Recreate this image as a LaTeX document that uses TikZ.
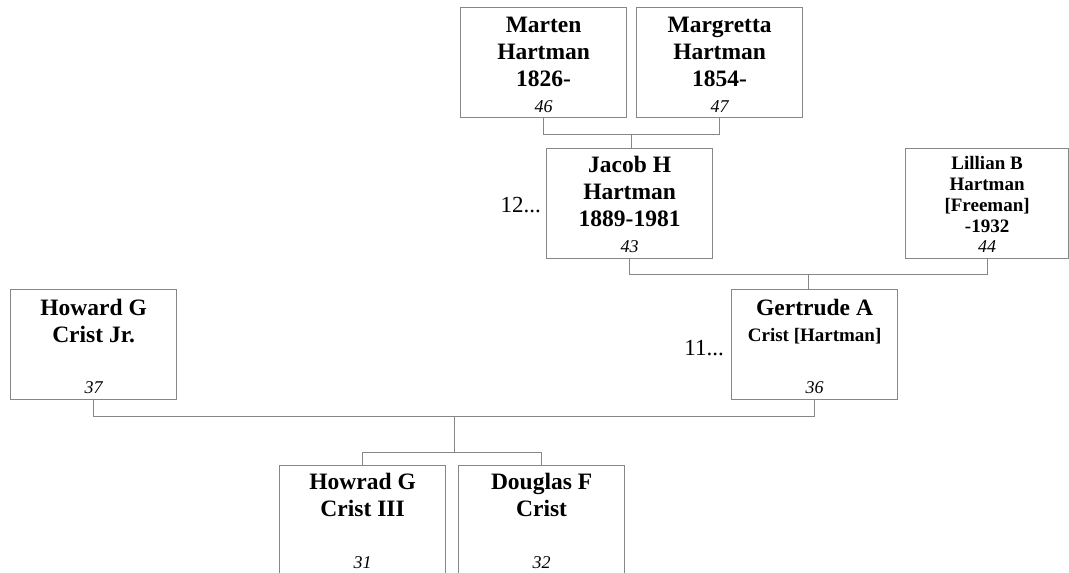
\documentclass[tikz,border=0pt]{standalone}
\usepackage{fontspec}
\setmainfont{Liberation Serif}
\usetikzlibrary{calc}
\definecolor{linegray}{RGB}{135,135,135}

\begin{document}
\begin{tikzpicture}[x=1pt, y=-1pt,
    person/.style={draw=linegray, line width=1.2pt, minimum width=166pt, minimum height=110pt, inner sep=0pt, anchor=north west},
    pname/.style={font=\bfseries\fontsize{23.5}{27}\selectfont, align=center, anchor=base, inner sep=0pt},
    psmall/.style={font=\bfseries\fontsize{19}{20.7}\selectfont, align=center, anchor=base, inner sep=0pt},
    pnum/.style={font=\itshape\fontsize{18}{20}\selectfont, anchor=base, inner sep=0pt},
    pref/.style={font=\fontsize{23}{27}\selectfont, anchor=base east, inner sep=0pt},
    link/.style={draw=linegray, line width=1.2pt}]
        \useasboundingbox (0,0) rectangle (1069,573);
        \clip (0,0) rectangle (1069,573);

        % the base of a name node is the baseline of its last line
        \node[person] (marten) at (460,7) {};
        \node[pname] (martenname) at ($(marten.north)+(0,79)$) {Marten\\Hartman\\1826-};
        \node[pnum] (martennum) at ($(marten.north)+(0,105)$) {46};

        \node[person] (margretta) at (636,7) {};
        \node[pname] (margrettaname) at ($(margretta.north)+(0,79)$) {Margretta\\Hartman\\1854-};
        \node[pnum] (margrettanum) at ($(margretta.north)+(0,105)$) {47};

        \node[person] (jacob) at (546,148) {};
        \node[pname] (jacobname) at ($(jacob.north)+(0,78)$) {Jacob H\\Hartman\\1889-1981};
        \node[pnum] (jacobnum) at ($(jacob.north)+(0,104)$) {43};
        \node[pref] (jacobref) at ($(jacob.north west)+(-5,64)$) {12...};

        \node[person, minimum width=163pt] (lillian) at (905,148) {};
        \node[psmall] (lillianname) at ($(lillian.north)+(0,84)$) {Lillian B\\Hartman\\{[Freeman]}\\-1932};
        \node[pnum] (lilliannum) at ($(lillian.north)+(0,104)$) {44};

        \node[person] (howard) at (10,289) {};
        \node[pname] (howardname) at ($(howard.north)+(0,53)$) {Howard G\\Crist Jr.};
        \node[pnum] (howardnum) at ($(howard.north)+(0,104)$) {37};

        \node[person] (gertrude) at (731,289) {};
        \node[pname] (gertrudename) at ($(gertrude.north)+(0,26)$) {Gertrude A};
        \node[psmall] (gertrudename2) at ($(gertrude.north)+(0,52)$) {Crist [Hartman]};
        \node[pnum] (gertrudenum) at ($(gertrude.north)+(0,104)$) {36};
        \node[pref] (gertruderef) at ($(gertrude.north west)+(-7,66)$) {11...};

        \node[person] (howrad) at (279,465) {};
        \node[pname] (howradname) at ($(howrad.north)+(0,51)$) {Howrad G\\Crist III};
        \node[pnum] (howradnum) at ($(howrad.north)+(0,103)$) {31};

        \node[person] (douglas) at (458,465) {};
        \node[pname] (douglasname) at ($(douglas.north)+(0,51)$) {Douglas F\\Crist};
        \node[pnum] (douglasnum) at ($(douglas.north)+(0,103)$) {32};

        \draw[link] (marten.south) -- ++(0,16) -| (margretta.south);
        \coordinate (top) at ($(marten.south)!0.5!(margretta.south)+(0,16)$);
        \draw[link] (top) -- (top |- jacob.north);

        \draw[link] (jacob.south) -- ++(0,15) -| (lillian.south);
        \coordinate (mid) at ($(jacob.south)!0.5!(lillian.south)+(0,15)$);
        \draw[link] (mid) -- (mid |- gertrude.north);

        \draw[link] (howard.south) -- ++(0,16) -| (gertrude.south);
        \coordinate (low) at ($(howard.south)!0.5!(gertrude.south)+(0,16)$);
        \coordinate (split) at ($(low)+(0,36)$);
        \draw[link] (low) -- (split);
        \draw[link] (howrad.north) |- (split) -| (douglas.north);
      \end{tikzpicture}
\end{document}
